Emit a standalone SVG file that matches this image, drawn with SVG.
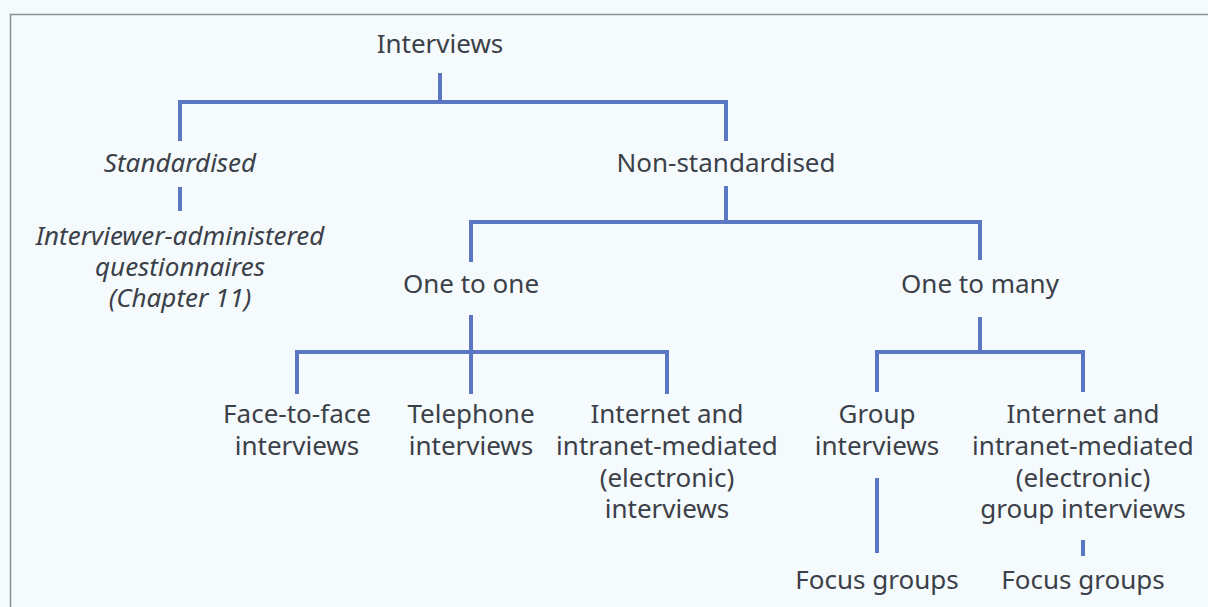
<svg xmlns="http://www.w3.org/2000/svg" width="1208" height="607" viewBox="0 0 1208 607">
<style>
text{font-family:"Noto Sans","Open Sans",sans-serif;font-size:26px;fill:#3b4049;text-anchor:middle}
.it{font-style:italic}
.ln{stroke:#5b77c2;stroke-width:4;fill:none;stroke-linecap:butt}
</style>
<rect width="1208" height="607" fill="#f5fbfc"/>
<path d="M10.5 607 V14.5 H1208" fill="none" stroke="#8a8f99" stroke-width="1.5"/>
<g id="connectors" class="ln">
<path d="M440 73 V102 M180 141 V102 H726 V141"/>
<path d="M180 187 V211"/>
<path d="M726 186 V222 M471 262 V222 H980 V260"/>
<path d="M471 315 V394 M297 394 V352 H667 V394"/>
<path d="M980 317 V352 M877 392 V352 H1083 V392"/>
<path d="M877 478 V553"/>
<path d="M1083 540 V556"/>
</g>
<g id="n-interviews"><text x="440" y="53">Interviews</text></g>
<g id="n-standardised"><text class="it" x="180" y="172">Standardised</text></g>
<g id="n-questionnaires"><text class="it" x="180" y="245">Interviewer-administered</text><text class="it" x="180" y="276">questionnaires</text><text class="it" x="180" y="307">(Chapter 11)</text></g>
<g id="n-nonstandardised"><text x="726" y="172">Non-standardised</text></g>
<g id="n-onetoone"><text x="471" y="293">One to one</text></g>
<g id="n-onetomany"><text x="980" y="293">One to many</text></g>
<g id="n-face"><text x="297" y="423">Face-to-face</text><text x="297" y="455">interviews</text></g>
<g id="n-telephone"><text x="471" y="423">Telephone</text><text x="471" y="455">interviews</text></g>
<g id="n-internet"><text x="667" y="423">Internet and</text><text x="667" y="455">intranet-mediated</text><text x="667" y="487">(electronic)</text><text x="667" y="518">interviews</text></g>
<g id="n-group"><text x="877" y="423">Group</text><text x="877" y="455">interviews</text></g>
<g id="n-internetgroup"><text x="1083" y="423">Internet and</text><text x="1083" y="455">intranet-mediated</text><text x="1083" y="487">(electronic)</text><text x="1083" y="518">group interviews</text></g>
<g id="n-focus1"><text x="877" y="589">Focus groups</text></g>
<g id="n-focus2"><text x="1083" y="589">Focus groups</text></g>
</svg>
